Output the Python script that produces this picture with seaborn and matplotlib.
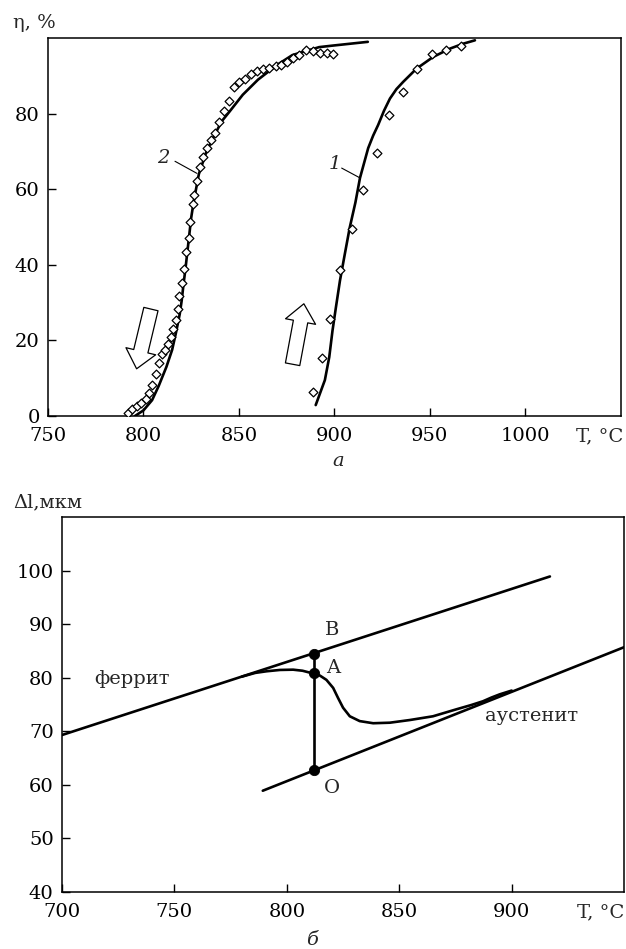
import matplotlib
matplotlib.use("Agg")
import matplotlib.pyplot as plt
import seaborn as sns
import pandas as pd
from matplotlib.patches import FancyArrowPatch

# ---------------- data: panel (a) ----------------
c2_line_T = [795.5, 800, 804.5, 808, 812, 815, 817, 819, 820, 821, 822, 823, 824, 825,
             826.4, 829, 833, 837.4, 841, 845, 852, 860, 870, 878, 892, 899, 917.5]
c2_line_eta = [0, 1.5, 4.2, 8, 13, 17.5, 22, 27, 30.5, 35, 39, 43.5, 48, 52.5,
               57, 64, 70, 74.5, 78, 80.5, 85, 89, 92.9, 95.5, 97.6, 98, 99]
c2_pts_T = [791.7, 794.2, 796.4, 798.7, 801.1, 802.9, 804.6, 806.5, 808.0, 809.5, 811.4,
            813.0, 814.2, 815.6, 816.9, 818.1, 818.6, 820.3, 821.4, 822.3, 823.7, 824.3,
            825.8, 826.4, 828.2, 829.6, 831.0, 833.4, 835.2, 837.4, 839.7, 842.1, 844.8,
            847.5, 850.2, 853.1, 856.1, 859.3, 862.7, 865.9, 869.4, 871.8, 875.0, 878.4,
            881.6, 885.1, 888.9, 892.4, 895.9, 899.4]
c2_pts_eta = [0.7, 1.9, 2.7, 3.5, 4.5, 6.0, 8.3, 11.2, 14.1, 16.5, 17.6,
              19.1, 20.9, 23.1, 25.3, 28.3, 31.8, 35.3, 39.0, 43.4, 47.2, 51.4,
              56.0, 58.4, 62.1, 65.9, 68.5, 70.9, 73.1, 75.0, 77.9, 80.7, 83.3,
              87.0, 88.4, 89.1, 90.4, 91.3, 91.7, 92.2, 92.6, 93.0, 93.7, 94.7,
              95.6, 96.9, 96.6, 96.1, 96.0, 95.7]
c1_line_T = [890.2, 895, 897.3, 899, 900.8, 902.9, 905.5, 908, 911, 913.4, 917.7, 920.3,
             922.9, 926, 929.1, 932.5, 936, 943, 951.7, 960.5, 967.4, 973.6]
c1_line_eta = [2.9, 9.5, 15.6, 22.6, 28.8, 35.8, 43, 49.8, 56.5, 63, 70.9, 74.2,
               77, 80.8, 84, 86.5, 88.4, 91.9, 95, 97.2, 98.5, 99.4]
c1_pts_T = [888.6, 893.3, 897.6, 902.9, 909.0, 915.1, 922.1, 928.7, 936.0, 943.5,
            950.9, 958.4, 966.1]
c1_pts_eta = [6.4, 15.4, 25.7, 38.6, 49.6, 59.7, 69.6, 79.6, 85.8, 91.7,
              95.7, 96.9, 97.9]
top_xticks = [750, 800, 850, 900, 950, 1000]
top_yticks = [0, 20, 40, 60, 80]

# ---------------- data: panel (б) ----------------
ferrite_T = [700, 917]
ferrite_dl = [69.3, 98.9]
aust_T = [789.3, 950]
aust_dl = [58.9, 85.7]
curve_T = [780, 786, 791, 797, 802.8, 807, 811.6, 814.7, 817.6, 820.6, 822.8, 825, 828,
           832.4, 838.4, 845.8, 854.7, 865, 875.4, 882, 887.2, 891, 894.7, 900]
curve_dl = [80.2, 80.9, 81.2, 81.45, 81.5, 81.3, 80.8, 80.4, 79.6, 78.1, 76.2, 74.4, 72.8,
            71.9, 71.5, 71.6, 72.1, 72.8, 74.1, 74.9, 75.6, 76.3, 76.9, 77.6]
pts_T = [812, 812, 812]
pts_dl = [84.5, 80.8, 62.8]
pts_lbl = ["B", "A", "O"]
bot_xticks = [700, 750, 800, 850, 900]
bot_yticks = [40, 50, 60, 70, 80, 90, 100]

# ---------------- style ----------------
sns.set_style("ticks")
plt.rcParams["font.family"] = ["DejaVu Serif"]
plt.rcParams["mathtext.fontset"] = "dejavuserif"
plt.rcParams["lines.solid_joinstyle"] = "round"
FS = 14
LW = 1.9

fig = plt.figure(figsize=(6.26, 9.49), dpi=100)
ax1 = fig.add_axes([0.0767, 0.5616, 0.915, 0.3983])
ax2 = fig.add_axes([0.099, 0.0601, 0.898, 0.3951])

for ax in (ax1, ax2):
    for s in ax.spines.values():
        s.set_visible(True)
        s.set_linewidth(1.1)
        s.set_color("black")
    ax.tick_params(direction="in", length=6, width=1.0, labelsize=FS,
                   top=False, right=False, colors="black")
    ax.tick_params(axis="x", pad=8)
    ax.tick_params(axis="y", pad=6)

# ---- panel a ----
df2l = pd.DataFrame({"T": c2_line_T, "eta": c2_line_eta})
df1l = pd.DataFrame({"T": c1_line_T, "eta": c1_line_eta})
df2p = pd.DataFrame({"T": c2_pts_T, "eta": c2_pts_eta})
df1p = pd.DataFrame({"T": c1_pts_T, "eta": c1_pts_eta})
sns.lineplot(data=df2l, x="T", y="eta", sort=False, estimator=None, color="black", lw=LW, ax=ax1)
sns.lineplot(data=df1l, x="T", y="eta", sort=False, estimator=None, color="black", lw=LW, ax=ax1)
for d in (df2p, df1p):
    sns.scatterplot(data=d, x="T", y="eta", marker="D", s=20, facecolor="white",
                    edgecolor="black", linewidth=0.9, ax=ax1, zorder=3)
ax1.set_xlim(750, 1050)
ax1.set_ylim(0, 100)
ax1.set_xticks(top_xticks)
ax1.set_yticks(top_yticks)
ax1.set_xlabel("")
ax1.set_ylabel("")

# curve labels
ax1.text(810.6, 68.2, "2", fontsize=FS, style="italic", ha="center", va="center")
ax1.plot([816.5, 828], [67.4, 64.2], color="black", lw=0.8)
ax1.text(900, 66.6, "1", fontsize=FS, style="italic", ha="center", va="center")
ax1.plot([903.8, 913.4], [65.6, 63], color="black", lw=0.8)

# hollow arrows
for (a, b) in [((803.9, 28.3), (796.4, 12.5)), ((878.1, 13.7), (884.0, 29.7))]:
    arr = FancyArrowPatch(a, b, arrowstyle="simple,head_length=13,head_width=22,tail_width=10.5",
                          mutation_scale=1, facecolor="white", edgecolor="black",
                          lw=0.9, shrinkA=0, shrinkB=0, zorder=4)
    ax1.add_patch(arr)

fig.text(0.021, 0.976, "η, %", fontsize=FS, ha="left", va="center")
fig.text(0.995, 0.5406, "T, °C", fontsize=FS, ha="right", va="center")
fig.text(0.540, 0.514, "а", fontsize=FS, style="italic", ha="center", va="center")

# ---- panel б ----
dff = pd.DataFrame({"T": ferrite_T, "dl": ferrite_dl})
dfa = pd.DataFrame({"T": aust_T, "dl": aust_dl})
dfc = pd.DataFrame({"T": curve_T, "dl": curve_dl})
dfp = pd.DataFrame({"T": pts_T, "dl": pts_dl, "lbl": pts_lbl})
for d in (dff, dfa, dfc):
    sns.lineplot(data=d, x="T", y="dl", sort=False, estimator=None, color="black", lw=LW, ax=ax2)
sns.lineplot(data=dfp, x="T", y="dl", sort=False, estimator=None, color="black", lw=LW, ax=ax2)
sns.scatterplot(data=dfp, x="T", y="dl", s=55, color="black", edgecolor="black", ax=ax2, zorder=4)
offsets = {"B": (8, 4.4), "A": (8.5, 1.1), "O": (8, -3.3)}
for t, v, l in zip(pts_T, pts_dl, pts_lbl):
    dx, dy = offsets[l]
    ax2.text(t + dx, v + dy, l, fontsize=FS, ha="center", va="center")
ax2.text(731, 79.8, "феррит", fontsize=FS, ha="center", va="center")
ax2.text(909, 72.9, "аустенит", fontsize=FS, ha="center", va="center")
ax2.set_xlim(700, 950)
ax2.set_ylim(40, 110)
ax2.set_xticks(bot_xticks)
ax2.set_yticks(bot_yticks)
ax2.set_xlabel("")
ax2.set_ylabel("")

fig.text(0.021, 0.471, "Δl,мкм", fontsize=FS, ha="left", va="center")
fig.text(0.997, 0.039, "T, °C", fontsize=FS, ha="right", va="center")
fig.text(0.498, 0.0095, "б", fontsize=FS, style="italic", ha="center", va="center")

fig.savefig("out.png", dpi=100)
